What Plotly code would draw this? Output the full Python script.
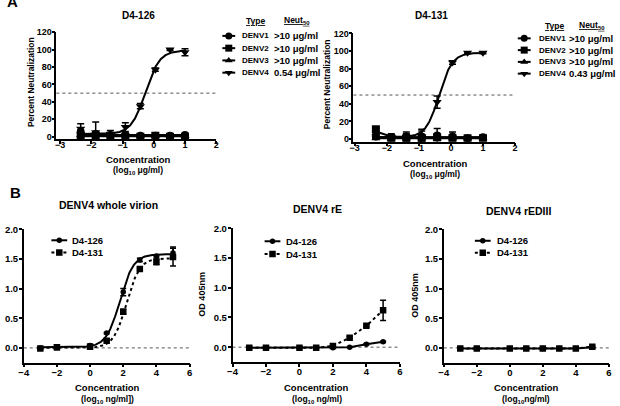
import numpy as np
import plotly.graph_objects as go

# ---------------- DATA ----------------
# Panel A: neutralization (x = log10 concentration, ug/ml)
A_LOGCONC = [-2.34, -1.86, -1.39, -0.91, -0.43, 0.05, 0.52, 1.0]
A_SERIES = ["DENV1", "DENV2", "DENV3", "DENV4"]

# D4-126
D4_126_DENV1 = [5, 3, 2, 2, 1, 1, 1, 2]
D4_126_DENV1_ERR = [3, 2, 2, 2, 1, 1, 1, 1]
D4_126_DENV2 = [1, 1, 1, 0, 0, 1, 0, 0]
D4_126_DENV2_ERR = [1, 1, 1, 1, 1, 1, 1, 1]
D4_126_DENV3 = [2, 2, 2, 2, 1, 1, 1, 1]
D4_126_DENV3_ERR = [1, 1, 1, 1, 1, 1, 1, 1]
D4_126_DENV4 = [9, 5, 3, 11, 35, 77, 100, 97]
D4_126_DENV4_ERR = [6, 12, 4, 5, 3, 2, 1, 4]
D4_126_NEUT50 = [">10 μg/ml", ">10 μg/ml", ">10 μg/ml", "0.54 μg/ml"]
# 4PL fit parameters: bottom, top, logEC50, hill
D4_126_FITS = [(2, 2, 0, 1), (0.5, 0.5, 0, 1), (1.5, 1.5, 0, 1), (3, 99, -0.268, 1.9)]

# D4-131
D4_131_DENV1 = [3, 2, 3, 3, 4, 3, 1, 2]
D4_131_DENV1_ERR = [3, 4, 5, 6, 8, 5, 1, 2]
D4_131_DENV2 = [11, 1, 1, 1, 2, 1, 1, 1]
D4_131_DENV2_ERR = [2, 1, 1, 1, 1, 1, 1, 1]
D4_131_DENV3 = [1, 1, 1, 1, 1, 1, 1, 1]
D4_131_DENV3_ERR = [1, 1, 1, 1, 1, 1, 1, 1]
D4_131_DENV4 = [3, 2, 2, 3, 42, 87, 98, 98]
D4_131_DENV4_ERR = [2, 3, 4, 8, 7, 2, 1, 1]
D4_131_NEUT50 = [">10 μg/ml", ">10 μg/ml", ">10 μg/ml", "0.43 μg/ml"]
D4_131_FITS = [(2, 2, 0, 1), (11, 2, -2.2, 3), (1, 1, 0, 1), (2, 98, -0.367, 2.1)]

A_TICKS_X = [-3, -2, -1, 0, 1, 2]
A_TICKS_Y = [0, 20, 40, 60, 80, 100, 120]

# Panel B: ELISA binding (x = log10 concentration, ng/ml), OD 405nm
B_LOGCONC = [-3, -2, 0, 1, 2, 3, 4, 5]
B_ANTIBODIES = ["D4-126", "D4-131"]

WV_126 = [0.00, 0.02, 0.04, 0.25, 0.94, 1.48, 1.55, 1.60]
WV_126_ERR = [0.01, 0.03, 0.02, 0.01, 0.06, 0.03, 0.02, 0.10]
WV_131 = [-0.01, 0.01, 0.02, 0.12, 0.61, 1.33, 1.45, 1.53]
WV_131_ERR = [0.01, 0.04, 0.02, 0.01, 0.04, 0.02, 0.05, 0.15]
WV_FITS = [(0.01, 1.58, 1.8, 1.05), (0.0, 1.51, 2.2, 1.1)]

RE_126 = [-0.01, -0.01, -0.01, -0.01, -0.01, 0.00, 0.05, 0.09]
RE_126_ERR = [0.005, 0.005, 0.005, 0.005, 0.005, 0.005, 0.01, 0.01]
RE_131 = [-0.01, -0.01, -0.01, -0.01, 0.02, 0.16, 0.36, 0.62]
RE_131_ERR = [0.005, 0.005, 0.005, 0.005, 0.01, 0.02, 0.02, 0.17]

ED_126 = [-0.01, -0.01, -0.01, -0.01, -0.01, -0.01, -0.01, 0.01]
ED_126_ERR = [0.005] * 8
ED_131 = [-0.01, -0.01, -0.01, -0.01, -0.01, -0.01, -0.01, 0.02]
ED_131_ERR = [0.005] * 8

B_TICKS_X = [-4, -2, 0, 2, 4, 6]
B_TICKS_Y = [0.0, 0.5, 1.0, 1.5, 2.0]

# ---------------- LAYOUT HELPERS ----------------
W, H = 620, 406
FONT = "Liberation Sans, Arial, sans-serif"


def PX(x):
    return x / W


def PY(y):
    return 1 - y / H


def fourpl(x, bottom, top, logec50, hill):
    return bottom + (top - bottom) / (1 + 10 ** ((logec50 - x) * hill))


fig = go.Figure()

A_SYMBOLS = ["circle", "square", "triangle-up", "triangle-down"]


def add_neut_panel(xa, ya, values, errs, fits):
    for vals, err, fit, sym in zip(values, errs, fits, A_SYMBOLS):
        xs = np.linspace(min(A_LOGCONC), max(A_LOGCONC), 200)
        fig.add_trace(go.Scatter(x=xs, y=fourpl(xs, *fit), mode="lines",
                                 line=dict(color="black", width=2),
                                 xaxis=xa, yaxis=ya, showlegend=False, hoverinfo="skip"))
        fig.add_trace(go.Scatter(x=A_LOGCONC, y=vals, mode="markers",
                                 marker=dict(symbol=sym, size=8, color="black"),
                                 error_y=dict(type="data", array=err, color="black",
                                              thickness=1.5, width=3.5),
                                 xaxis=xa, yaxis=ya, showlegend=False))


add_neut_panel("x", "y",
               [D4_126_DENV1, D4_126_DENV2, D4_126_DENV3, D4_126_DENV4],
               [D4_126_DENV1_ERR, D4_126_DENV2_ERR, D4_126_DENV3_ERR, D4_126_DENV4_ERR],
               D4_126_FITS)
add_neut_panel("x2", "y2",
               [D4_131_DENV1, D4_131_DENV2, D4_131_DENV3, D4_131_DENV4],
               [D4_131_DENV1_ERR, D4_131_DENV2_ERR, D4_131_DENV3_ERR, D4_131_DENV4_ERR],
               D4_131_FITS)

B_SYMBOLS = ["circle", "square"]
B_DASH = ["solid", "dot"]
B_MSIZE = [5.5, 6.5]


def add_elisa_panel(xa, ya, values, errs, fits=None):
    for i, (vals, err) in enumerate(zip(values, errs)):
        if fits is not None:
            xs = np.linspace(min(B_LOGCONC), max(B_LOGCONC), 200)
            fig.add_trace(go.Scatter(x=xs, y=fourpl(xs, *fits[i]), mode="lines",
                                     line=dict(color="black", width=2, dash=B_DASH[i]),
                                     xaxis=xa, yaxis=ya, showlegend=False, hoverinfo="skip"))
            mode = "markers"
        else:
            mode = "lines+markers"
        fig.add_trace(go.Scatter(x=B_LOGCONC, y=vals, mode=mode,
                                 line=dict(color="black", width=2, dash=B_DASH[i]),
                                 marker=dict(symbol=B_SYMBOLS[i], size=B_MSIZE[i], color="black"),
                                 error_y=dict(type="data", array=err, color="black",
                                              thickness=1.5, width=3),
                                 xaxis=xa, yaxis=ya, showlegend=False))


add_elisa_panel("x3", "y3", [WV_126, WV_131], [WV_126_ERR, WV_131_ERR], WV_FITS)
add_elisa_panel("x4", "y4", [RE_126, RE_131], [RE_126_ERR, RE_131_ERR])
add_elisa_panel("x5", "y5", [ED_126, ED_131], [ED_126_ERR, ED_131_ERR])

# ---------------- AXES ----------------
axis_common = dict(showline=True, linecolor="black", linewidth=1.5, ticks="outside",
                   ticklen=3, tickwidth=1.5, tickcolor="black", showgrid=False,
                   zeroline=False, fixedrange=True)

panels = [
    # suffix, x dom px, y dom px (bottom, top), x range, y range, x ticks, y ticks, fmt,
    # tick font size, x label standoff, y label standoff
    ("", (52, 214), (136, 26.7), [-3.12, 2], [-3, 120], A_TICKS_X, A_TICKS_Y, "d", 9, -7, -2),
    ("2", (353, 516.7), (138.4, 28), [-3.04, 2], [-3, 120], A_TICKS_X, A_TICKS_Y, "d", 9, -6, -2),
    ("3", (19, 187), (363.9, 227.7), [-4, 6], [-0.25, 2], B_TICKS_X, B_TICKS_Y, ".1f", 9.5, -3, -1),
    ("4", (230.5, 400), (363.2, 226.7), [-4, 6], [-0.25, 2], B_TICKS_X, B_TICKS_Y, ".1f", 9.5, -3, -1),
    ("5", (444.5, 611.7), (363.9, 227.7), [-4, 6], [-0.25, 2], B_TICKS_X, B_TICKS_Y, ".1f", 9.5, -3, -1),
]
layout_axes = {}
for suf, xd, yd, xr, yr, xt, yt, yfmt, fs, xso, yso in panels:
    tf = dict(family=FONT, size=fs, color="black", weight="bold")
    layout_axes["xaxis" + suf] = dict(axis_common, domain=[PX(xd[0]), PX(xd[1])],
                                      range=xr, tickvals=xt, anchor="y" + suf,
                                      tickfont=tf, ticklabelstandoff=xso)
    layout_axes["yaxis" + suf] = dict(axis_common, domain=[PY(yd[0]), PY(yd[1])],
                                      range=yr, tickvals=yt, tickformat=yfmt,
                                      anchor="x" + suf, tickfont=tf, ticklabelstandoff=yso)
    # reference dotted line
    ref_y = 50 if suf in ("", "2") else 0
    fig.add_shape(type="line", xref=("x" + suf + " domain"), yref=("y" + suf),
                  x0=0, x1=1, y0=ref_y, y1=ref_y, layer="below",
                  line=dict(color="#555555", width=1, dash="dot"))

# overlay pixel-coordinate axes for legend keys
layout_axes["xaxis6"] = dict(domain=[0, 1], range=[0, W], visible=False, fixedrange=True,
                             anchor="y6")
layout_axes["yaxis6"] = dict(domain=[0, 1], range=[H, 0], visible=False, fixedrange=True,
                             anchor="x6")


def legend_key(xc, half, y, symbol, dash, msize):
    fig.add_trace(go.Scatter(x=[xc - half, xc + half], y=[y, y], mode="lines",
                             line=dict(color="black", width=2, dash=dash),
                             xaxis="x6", yaxis="y6", showlegend=False, hoverinfo="skip"))
    fig.add_trace(go.Scatter(x=[xc], y=[y], mode="markers",
                             marker=dict(symbol=symbol, size=msize, color="black"),
                             xaxis="x6", yaxis="y6", showlegend=False, hoverinfo="skip"))


annotations = []


def text(x, y, s, size=9, xanchor="center", yanchor="middle", angle=0):
    annotations.append(dict(x=PX(x), y=PY(y), xref="paper", yref="paper", text=s,
                            showarrow=False, xanchor=xanchor, yanchor=yanchor,
                            textangle=angle,
                            font=dict(family=FONT, size=size, color="black", weight="bold")))


# Panel A legends (tables)
A_LEG = [
    dict(key_x=226.7, name_x=238.5, neut_x=270, type_x=253.5, neut_hx=296, head_y=15,
         rows=[30.5, 43, 55.5, 68], neut=D4_126_NEUT50),
    dict(key_x=526, name_x=539, neut_x=569, type_x=556.5, neut_hx=595, head_y=20,
         rows=[33, 45, 57, 69], neut=D4_131_NEUT50),
]
for leg in A_LEG:
    text(leg["type_x"], leg["head_y"], "<u>Type</u>", size=8.5)
    text(leg["neut_hx"], leg["head_y"], "<u>Neut<sub>50</sub></u>", size=8.5)
    for name, sym, ry, nv in zip(A_SERIES, A_SYMBOLS, leg["rows"], leg["neut"]):
        legend_key(leg["key_x"], 6.5, ry, sym, "solid", 7)
        text(leg["name_x"], ry, name, size=8, xanchor="left")
        text(leg["neut_x"], ry, nv, size=9.5, xanchor="left")

# Panel B legends
B_LEG = [(55, 66, [239, 251.5]), (271, 283, [240, 253]), (484, 496, [239.5, 251.7])]
for kx, tx, rows in B_LEG:
    for i, (ab, ry) in enumerate(zip(B_ANTIBODIES, rows)):
        legend_key(kx, 8, ry, B_SYMBOLS[i], B_DASH[i], B_MSIZE[i])
        text(tx, ry, ab, xanchor="left", size=9.5)

# Titles
text(135, 10, "D4-126", size=10)
text(432, 10, "D4-131", size=10)
text(105, 203, "DENV4 whole virion", size=10.5)
text(317, 207, "DENV4 rE", size=10.5)
text(520, 209, "DENV4 rEDIII", size=10.5)

# Axis titles
text(27, 78, "Percent Neutralization", size=8.5, angle=-90)
text(327, 80, "Percent Neutralization", size=8.5, angle=-90)
text(135, 157, "Concentration", size=9.5)
text(135, 167.5, "(log<sub>10</sub> μg/ml)", size=8.5)
text(436, 160.5, "Concentration", size=9.5)
text(436, 171.5, "(log<sub>10</sub> μg/ml)", size=8.5)
text(104, 389, "Concentration", size=9.5)
text(104, 401, "(log<sub>10</sub> ng/ml])", size=8.5)
text(316, 389.5, "Concentration", size=9.5)
text(316, 401, "(log<sub>10</sub> ng/ml)", size=8.5)
text(528, 389.5, "Concentration", size=9.5)
text(528, 401, "(log<sub>10</sub>ng/ml)", size=8.5)
text(200, 294, "OD 405nm", size=9, angle=-90)
text(416, 295, "OD 405nm", size=9, angle=-90)

# Panel letters
text(8, 6, "A", size=15, yanchor="bottom")
text(11, 190, "B", size=15)

fig.update_layout(width=W, height=H, margin=dict(l=0, r=0, t=0, b=0),
                  paper_bgcolor="white", plot_bgcolor="rgba(0,0,0,0)",
                  showlegend=False, annotations=annotations, **layout_axes)

fig.write_html("out.html")
